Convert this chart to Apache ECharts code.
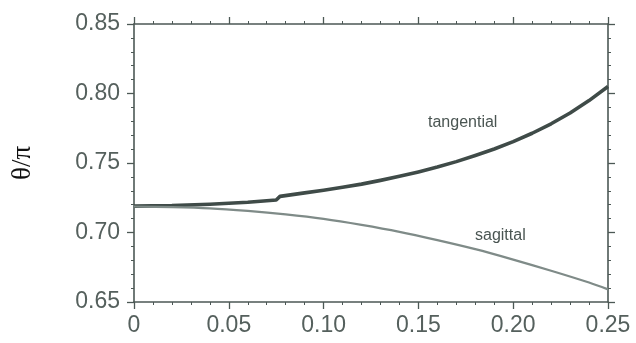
<!DOCTYPE html>
<html>
<head>
<meta charset="utf-8">
<script src="https://cdn.jsdelivr.net/npm/echarts@6/dist/echarts.min.js"></script>
<style>
  html, body { margin: 0; padding: 0; background: #fff; }
  #chart { width: 636px; height: 343px; }
</style>
</head>
<body>
<div id="chart"></div>
<script>
// values
var tangentialX = [0, 0.02, 0.04, 0.06, 0.075, 0.077, 0.09, 0.10, 0.11, 0.12, 0.13, 0.14, 0.15, 0.16, 0.17, 0.18, 0.19, 0.20, 0.21, 0.22, 0.23, 0.24, 0.25];
var tangentialY = [0.719, 0.7193, 0.7203, 0.7218, 0.7234, 0.7260, 0.7285, 0.7304, 0.7325, 0.7348, 0.7375, 0.7404, 0.7436, 0.7471, 0.751, 0.7554, 0.7601, 0.7654, 0.7714, 0.7782, 0.786, 0.7949, 0.805];
var sagittalX = [0, 0.02, 0.04, 0.06, 0.08, 0.10, 0.12, 0.14, 0.16, 0.18, 0.20, 0.22, 0.24, 0.25];
var sagittalY = [0.7187, 0.7183, 0.7174, 0.7155, 0.713, 0.7098, 0.7055, 0.7005, 0.6945, 0.688, 0.6805, 0.6725, 0.664, 0.6591];
var xTicks = { min: 0, max: 0.25, step: 0.05 };
var yTicks = { min: 0.65, max: 0.85, step: 0.05 };

function pairs(xs, ys) {
    var out = [];
    for (var i = 0; i < xs.length; i++) out.push([xs[i], ys[i]]);
    return out;
}

var axisCol = '#4c5855';
var labelFont = '"Liberation Sans", Arial, sans-serif';

function axisBase(extra) {
    var a = {
        type: 'value',
        axisLine: { show: true, onZero: false, lineStyle: { color: axisCol, width: 1.6 } },
        axisTick: { show: true, inside: false, length: 7, lineStyle: { color: axisCol, width: 1.3 } },
        minorTick: { show: true, splitNumber: 5, length: 3, lineStyle: { color: axisCol, width: 1 } },
        splitLine: { show: false },
        axisLabel: { show: false }
    };
    for (var k in extra) a[k] = extra[k];
    return a;
}

var myChart = echarts.init(document.getElementById('chart'));

var option = {
    animation: false,
    backgroundColor: '#fff',
    grid: { left: 134, right: 28, top: 24, bottom: 41 },
    xAxis: [
        axisBase({
            position: 'bottom', min: xTicks.min, max: xTicks.max, interval: xTicks.step,
            axisLabel: {
                show: true, margin: 12, color: '#55605d', fontSize: 23, fontFamily: labelFont,
                formatter: function (v) { return v === 0 ? '0' : v.toFixed(2); }
            }
        }),
        axisBase({ position: 'top', min: xTicks.min, max: xTicks.max, interval: xTicks.step })
    ],
    yAxis: [
        axisBase({
            position: 'left', min: yTicks.min, max: yTicks.max, interval: yTicks.step,
            axisLabel: {
                show: true, margin: 14, color: '#55605d', fontSize: 23, fontFamily: labelFont,
                formatter: function (v) { return v.toFixed(2); }
            },
            name: 'θ/π', nameLocation: 'middle', nameGap: 98, nameRotate: 90,
            nameTextStyle: { color: '#111', fontSize: 27, fontFamily: '"Liberation Serif", "DejaVu Serif", serif' }
        }),
        axisBase({ position: 'right', min: yTicks.min, max: yTicks.max, interval: yTicks.step })
    ],
    series: [
        {
            name: 'tangential',
            type: 'line',
            data: pairs(tangentialX, tangentialY),
            showSymbol: false,
            smooth: false,
            lineStyle: { color: '#3f4b48', width: 3.6, join: 'round' }
        },
        {
            name: 'sagittal',
            type: 'line',
            data: pairs(sagittalX, sagittalY),
            showSymbol: false,
            smooth: 0.3,
            lineStyle: { color: '#7f8b88', width: 2.2 }
        }
    ],
    graphic: [
        {
            type: 'text', left: 428, top: 115,
            style: { text: 'tangential', fill: '#4a5552', fontSize: 16, fontFamily: labelFont }
        },
        {
            type: 'text', left: 475, top: 228,
            style: { text: 'sagittal', fill: '#4a5552', fontSize: 16, fontFamily: labelFont }
        }
    ]
};

myChart.setOption(option);
</script>
</body>
</html>
